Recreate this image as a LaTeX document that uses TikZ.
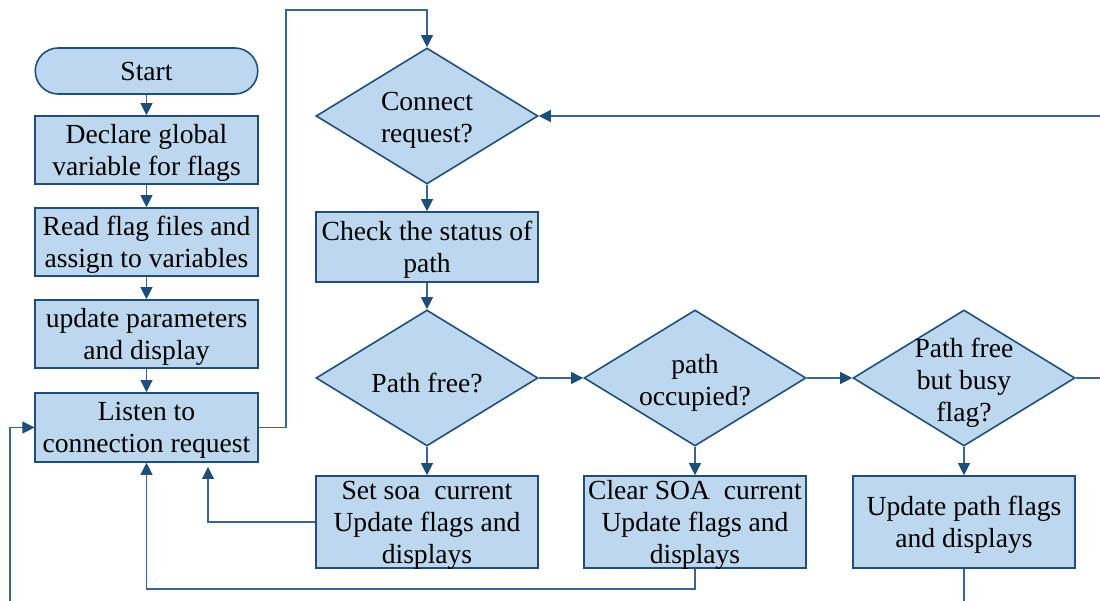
\documentclass[tikz,border=0pt]{standalone}
\usepackage{fontspec}
\setmainfont{Liberation Serif}
\usetikzlibrary{arrows.meta,shapes.geometric}
\definecolor{boxfill}{HTML}{BDD7EE}
\definecolor{boxline}{HTML}{1F4E79}
\definecolor{flowline}{HTML}{3A6591}
\def\flowfont{\fontsize{15.7}{18.2}\selectfont}
\tikzset{
	procbox/.style={draw=boxline, line width=0.9pt, fill=boxfill, minimum width=4.45cm, align=center, inner sep=1pt, text depth=-0.04cm, font=\flowfont},
	termbox/.style={procbox, rounded corners=0.46cm, minimum height=0.92cm},
	decbox/.style={draw=boxline, line width=0.9pt, fill=boxfill, diamond, minimum width=4.44cm, minimum height=2.72cm, inner sep=0pt},
	dectext/.style={align=center, inner sep=0pt, yshift=-0.09cm, font=\flowfont},
	link/.style={draw=flowline, line width=0.6pt},
	flow/.style={link, -{Triangle[length=0.24cm, width=0.24cm, color=boxline]}}
}

\begin{document}
\begin{tikzpicture}
			%%%%% START %%%%%
			
			\useasboundingbox (0, 0) rectangle (22, 12.02);
			
			\node[termbox] (start) at (2.93, 10.60) {Start};
			\node[procbox, minimum height=1.36cm] (declare) at (2.93, 9.02) {Declare global\\variable for flags};
			\node[procbox, minimum height=1.36cm] (readflags) at (2.93, 7.18) {Read flag files and\\assign to variables};
			\node[procbox, minimum height=1.36cm] (updparams) at (2.93, 5.34) {update parameters\\and display};
			\node[procbox, minimum height=1.38cm] (listen) at (2.93, 3.47) {Listen to\\connection request};
			
			\node[decbox, label={[dectext]center:{Connect\\request?}}] (connreq) at (8.54, 9.70) {};
			\node[procbox, minimum height=1.40cm] (checkpath) at (8.54, 7.08) {Check the status of\\path};
			\node[decbox, label={[dectext]center:{Path free?}}] (pathfree) at (8.54, 4.46) {};
			\node[decbox, label={[dectext]center:{path\\occupied?}}] (pathocc) at (13.90, 4.46) {};
			\node[decbox, label={[dectext]center:{Path free\\but busy\\flag?}}] (pathbusy) at (19.28, 4.46) {};
			
			\node[procbox, minimum height=1.84cm] (setsoa) at (8.54, 1.58) {Set soa\ \ current\\Update flags and\\displays};
			\node[procbox, minimum height=1.84cm] (clearsoa) at (13.90, 1.58) {Clear SOA\ \ current\\Update flags and\\displays};
			\node[procbox, minimum height=1.84cm] (updpath) at (19.28, 1.58) {Update path flags\\and displays};
			
			% free ends and bends
			\coordinate (topturn) at (5.72, 11.82);
			\coordinate (inright) at (22, 9.70);
			\coordinate (outright) at (22, 4.46);
			\coordinate (outdown) at (19.28, 0);
			\coordinate (inleft) at (0.20, 0);
			\coordinate (soaret) at (4.16, 2.78);
			\coordinate (botturn) at (2.93, 0.24);
			
			\draw[flow] (start) -- (declare);
			\draw[flow] (declare) -- (readflags);
			\draw[flow] (readflags) -- (updparams);
			\draw[flow] (updparams) -- (listen);
			
			\draw[flow] (listen.east) -| (topturn) -| (connreq.north);
			\draw[flow] (inright) -- (connreq.east);
			\draw[flow] (connreq) -- (checkpath);
			\draw[flow] (checkpath) -- (pathfree);
			\draw[flow] (pathfree.east) -- (pathocc.west);
			\draw[flow] (pathocc.east) -- (pathbusy.west);
			\draw[link] (pathbusy.east) -- (outright);
			
			\draw[flow] (pathfree) -- (setsoa);
			\draw[flow] (pathocc) -- (clearsoa);
			\draw[flow] (pathbusy) -- (updpath);
			\draw[link] (updpath) -- (outdown);
			
			\draw[flow, shorten >=0.1cm] (setsoa.west) -| (soaret);
			\draw[flow] (clearsoa.south) |- (botturn) -- (listen.south);
			\draw[flow] (inleft) |- (listen.west);
			
			%%%%% END %%%%%
		\end{tikzpicture}
\end{document}
